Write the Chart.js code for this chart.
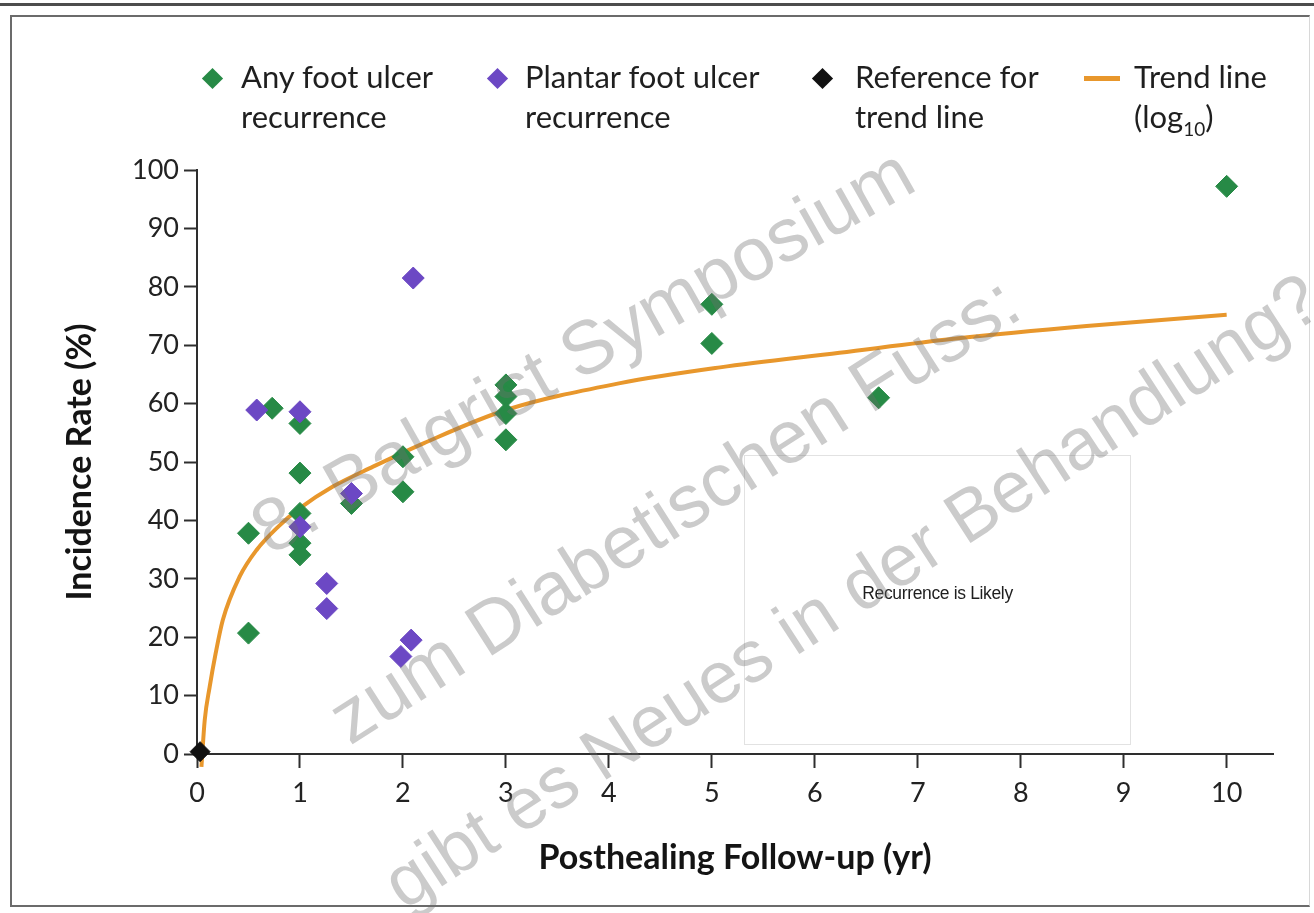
<!DOCTYPE html>
<html>
<head>
<meta charset="utf-8">
<script src="https://cdn.jsdelivr.net/npm/chart.js@4.4.1/dist/chart.umd.min.js"></script>
<style>
  html, body { margin: 0; padding: 0; background: #fff; }
  #wrap { position: relative; width: 1314px; height: 913px; overflow: hidden; font-family: Lato, "Open Sans", sans-serif; color: #1a1a1a; }
  #rule { position: absolute; left: 0; top: 3px; width: 1314px; height: 3px; background: #4d4d4d; }
  #frame { position: absolute; left: 10px; top: 15px; width: 1300px; height: 892px;
           border-top: 2px solid #6b6b6b; border-left: 2px solid #6b6b6b; border-bottom: 2px solid #6b6b6b;
           border-right: 1px solid #d8d8d8; box-sizing: border-box; }
  #note { position: absolute; left: 744px; top: 455px; width: 387px; height: 290px; box-sizing: border-box;
          border: 1px solid #e2e2e2; background: #fff; z-index: 1; }
  #note span { position: absolute; left: 0; right: 0; top: 127px; text-align: center;
               font-family: "Liberation Sans", Arial, sans-serif; font-size: 17.5px; letter-spacing: -0.35px;
               color: #1e1e1e; filter: blur(0.6px); }
  canvas#chart { position: absolute; left: 0; top: 0; z-index: 2; }
  .lg-txt { position: absolute; top: 56px; font-size: 31px; line-height: 40px; color: #1f1f1f; z-index: 3; white-space: nowrap; }
  .lg-dia { position: absolute; width: 15px; height: 15px; transform: rotate(45deg); z-index: 3; }
  .lg-line { position: absolute; left: 1084px; top: 76px; width: 36px; height: 5px; background: #e8972c; z-index: 3; }
  sub { font-size: 19px; vertical-align: -8px; line-height: 0; }
</style>
</head>
<body>
<div id="wrap">
  <div id="rule"></div>
  <div id="frame"></div>
  <div id="note"><span>Recurrence is Likely</span></div>
  <canvas id="chart" width="1314" height="913"></canvas>

  <div class="lg-dia" style="left:205px; top:71px; background:#278a46;"></div>
  <div class="lg-txt" style="left:241px;">Any foot ulcer<br>recurrence</div>
  <div class="lg-dia" style="left:490px; top:71px; background:#6c48c4;"></div>
  <div class="lg-txt" style="left:525px;">Plantar foot ulcer<br>recurrence</div>
  <div class="lg-dia" style="left:815px; top:71px; background:#111;"></div>
  <div class="lg-txt" style="left:855px;">Reference for<br>trend line</div>
  <div class="lg-line"></div>
  <div class="lg-txt" style="left:1134px;">Trend line<br>(log<sub>10</sub>)</div>
</div>

<script>
// Any foot ulcer recurrence: follow-up years and incidence rates (%)
const anyUlcerYears = [0.5, 0.5, 0.73, 1, 1, 1, 1, 1, 1.5, 2, 2, 3, 3, 3, 3, 5, 5, 6.62, 10];
const anyUlcerRates = [37.8, 20.7, 59.2, 56.6, 48.1, 41.2, 36.1, 34.1, 42.9, 44.9, 50.9, 63.2, 61.2, 58.3, 53.8, 70.3, 77.0, 61.0, 97.2];

// Plantar foot ulcer recurrence
const plantarYears = [0.58, 1, 1, 1.26, 1.26, 1.5, 1.98, 2.08, 2.1];
const plantarRates = [58.9, 58.6, 38.9, 29.2, 24.9, 44.6, 16.7, 19.5, 81.5];

// Reference point the trend line is anchored to
const referenceYears = [0.03];
const referenceRates = [0.4];

// Logarithmic trend line, traced point by point
const trendYears = [0.043, 0.075, 0.123, 0.182, 0.25, 0.415, 0.577, 0.787, 1.0, 1.32, 1.71, 2.2, 3.0, 4.11, 5.08, 6.24, 7.35, 8.64, 10.0];
const trendRates = [-2.2, 5.8, 11.5, 17.3, 22.9, 30.4, 34.9, 38.9, 42.1, 45.8, 49.2, 53.2, 58.9, 63.5, 66.2, 68.7, 71.1, 73.3, 75.2];

// Axis ticks
const xTickValues = [0, 1, 2, 3, 4, 5, 6, 7, 8, 9, 10];
const yTickValues = [0, 10, 20, 30, 40, 50, 60, 70, 80, 90, 100];

const pairs = (xs, ys) => xs.map((x, i) => ({ x, y: ys[i] }));

const GREEN = '#278a46';
const PURPLE = '#6c48c4';
const ORANGE = '#e8972c';
const AXIS = '#2e2e2e';

// Grey diagonal watermark lines drawn over the plot
const watermarkLines = [
  { text: '8. Balgrist Symposium', x: 270, y: 556, angle: 29.5, size: 75 },
  { text: 'zum Diabetischen Fuss:', x: 350, y: 746, angle: 32.5, size: 75 },
  { text: 'gibt es Neues in der Behandlung?', x: 404, y: 911, angle: 33, size: 73 }
];

const watermark = {
  id: 'watermark',
  afterDraw(chart) {
    const ctx = chart.ctx;
    ctx.save();
    ctx.fillStyle = 'rgba(110,110,110,0.36)';
    ctx.textBaseline = 'alphabetic';
    watermarkLines.forEach(l => {
      ctx.save();
      ctx.font = l.size + 'px "Liberation Sans", Arial, sans-serif';
      ctx.translate(l.x, l.y);
      ctx.rotate(-l.angle * Math.PI / 180);
      ctx.fillText(l.text, 0, 0);
      ctx.restore();
    });
    ctx.restore();
  }
};

const tickFont = { family: 'Lato, sans-serif', size: 27 };
const titleFont = { family: 'Lato, sans-serif', size: 34, weight: 'bold' };

new Chart(document.getElementById('chart'), {
  type: 'scatter',
  data: {
    datasets: [
      {
        label: 'Reference for trend line',
        data: pairs(referenceYears, referenceRates),
        pointStyle: 'rectRot', pointRadius: 10,
        backgroundColor: '#111', borderColor: '#111', borderWidth: 1,
        clip: false
      },
      {
        label: 'Plantar foot ulcer recurrence',
        data: pairs(plantarYears, plantarRates),
        pointStyle: 'rectRot', pointRadius: 11,
        backgroundColor: PURPLE, borderColor: PURPLE, borderWidth: 1
      },
      {
        label: 'Any foot ulcer recurrence',
        data: pairs(anyUlcerYears, anyUlcerRates),
        pointStyle: 'rectRot', pointRadius: 11,
        backgroundColor: GREEN, borderColor: GREEN, borderWidth: 1
      },
      {
        label: 'Trend line (log10)',
        type: 'line',
        data: pairs(trendYears, trendRates),
        showLine: true, pointRadius: 0,
        borderColor: ORANGE, borderWidth: 4,
        cubicInterpolationMode: 'monotone',
        fill: false, clip: false
      }
    ]
  },
  options: {
    responsive: false,
    animation: false,
    events: [],
    layout: { padding: { top: 170, right: 41, bottom: 31, left: 56 } },
    plugins: { legend: { display: false }, tooltip: { enabled: false } },
    scales: {
      x: {
        type: 'linear', min: 0, max: 10.45,
        afterFit: s => { s.height = 128; },
        afterBuildTicks: s => { s.ticks = xTickValues.map(v => ({ value: v })); },
        grid: { drawOnChartArea: false, drawTicks: true, tickLength: 14, tickWidth: 2, tickColor: AXIS },
        border: { display: true, color: AXIS, width: 2 },
        ticks: { font: tickFont, color: '#222', padding: 9, maxRotation: 0, autoSkip: false },
        title: { display: true, text: 'Posthealing Follow-up (yr)', font: titleFont, color: '#141414', padding: { top: 4, bottom: 4 } }
      },
      y: {
        type: 'linear', min: 0, max: 100,
        afterFit: s => { s.width = 141; },
        afterBuildTicks: s => { s.ticks = yTickValues.map(v => ({ value: v })); },
        grid: { drawOnChartArea: false, drawTicks: true, tickLength: 13, tickWidth: 2, tickColor: AXIS },
        border: { display: true, color: AXIS, width: 2 },
        ticks: { font: tickFont, color: '#222', padding: 5, autoSkip: false },
        title: { display: true, text: 'Incidence Rate (%)', font: titleFont, color: '#141414', padding: { top: 4, bottom: 4 } }
      }
    }
  },
  plugins: [watermark]
});
</script>
</body>
</html>
